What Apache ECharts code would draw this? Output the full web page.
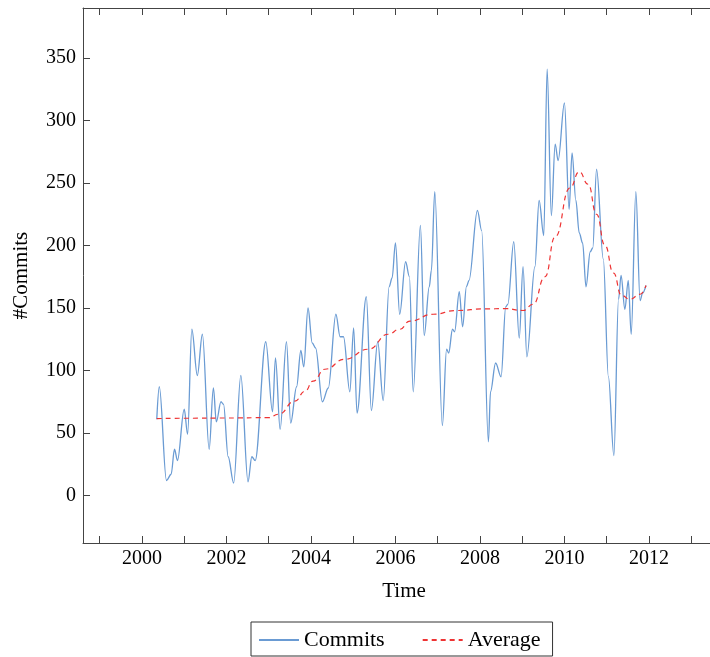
<!DOCTYPE html>
<html>
<head>
<meta charset="utf-8">
<script src="https://cdn.jsdelivr.net/npm/echarts@6/dist/echarts.min.js"></script>
<style>html,body{margin:0;padding:0;background:#fff;}#c{width:710px;height:657px;}</style>
</head>
<body>
<div id="c"></div>
<script>
const commitYears = [2000.35,2000.41,2000.58,2000.69,2000.77,2000.84,2001.0,2001.08,2001.18,2001.31,2001.43,2001.59,2001.69,2001.76,2001.87,2001.93,2002.04,2002.17,2002.34,2002.51,2002.6,2002.68,2002.93,2003.09,2003.16,2003.27,2003.42,2003.52,2003.66,2003.76,2003.83,2003.93,2004.03,2004.11,2004.27,2004.41,2004.59,2004.69,2004.77,2004.92,2005.01,2005.09,2005.31,2005.43,2005.58,2005.71,2005.85,2005.92,2006.0,2006.1,2006.24,2006.33,2006.42,2006.59,2006.68,2006.8,2006.85,2006.93,2007.11,2007.21,2007.26,2007.35,2007.4,2007.51,2007.59,2007.68,2007.74,2007.94,2008.04,2008.2,2008.25,2008.37,2008.5,2008.61,2008.66,2008.8,2008.93,2009.02,2009.11,2009.3,2009.4,2009.51,2009.59,2009.69,2009.78,2009.85,2010.0,2010.11,2010.18,2010.27,2010.35,2010.43,2010.51,2010.61,2010.67,2010.76,2010.92,2011.04,2011.17,2011.28,2011.34,2011.43,2011.51,2011.58,2011.69,2011.79,2011.85,2011.93];
const commitValues = [61,87,12,17,37,28,69,49,133,96,129,37,86,59,75,73,31,10,96,11,31,28,123,67,110,53,123,58,87,116,103,150,122,118,75,86,145,127,127,83,134,66,159,68,123,76,167,174,202,145,187,175,83,216,128,167,180,243,56,117,114,133,131,163,135,167,172,228,212,43,83,106,95,151,153,203,126,183,111,183,236,208,341,224,281,268,314,229,274,236,210,202,167,195,198,261,189,95,32,157,176,149,172,129,243,156,162,168];
const avgYears = [2000.35,2001.0,2002.0,2003.0,2003.23,2003.62,2003.86,2004.05,2004.33,2004.8,2005.36,2005.83,2006.1,2006.34,2006.89,2007.44,2008.12,2008.6,2009.02,2009.26,2009.54,2009.78,2010.13,2010.35,2010.56,2010.76,2010.96,2011.16,2011.35,2011.55,2011.79,2011.93];
const avgValues = [61.5,61.8,62,62.3,65,75.5,83.5,91.5,101,109,117,129,133,139.5,145,148,149.3,149.5,148,153,175,207,246,259,249,225,200,178,160,157,161,168];
const xTickYears = [1999,2000,2001,2002,2003,2004,2005,2006,2007,2008,2009,2010,2011,2012,2013];
const xLabelYears = [2000,2002,2004,2006,2008,2010,2012];
const yTickValues = [0,50,100,150,200,250,300,350];

const commitData = commitYears.map((x, i) => [x, commitValues[i]]);
const avgData = avgYears.map((x, i) => [x, avgValues[i]]);

const FONT = 'Liberation Serif';
const axisColor = '#444';
const chart = echarts.init(document.getElementById('c'), null, {renderer: 'canvas'});
function xAxisOpt(extra) {
  return Object.assign({
    type: 'value', min: 1998.604, max: 2013.8, splitLine: {show: false},
    axisLine: {show: true, onZero: false, lineStyle: {color: axisColor, width: 1}},
    axisTick: {show: true, inside: true, length: 7, customValues: xTickYears.slice(), lineStyle: {color: axisColor}},
    minorTick: {show: false}
  }, extra);
}
function yAxisOpt(extra) {
  return Object.assign({
    type: 'value', min: -38, max: 390, splitNumber: 8, splitLine: {show: false},
    axisLine: {show: true, onZero: false, lineStyle: {color: axisColor, width: 1}},
    axisTick: {show: true, inside: true, length: 7, lineStyle: {color: axisColor, width: 1}},
    minorTick: {show: false}
  }, extra);
}
chart.setOption({
  animation: false,
  backgroundColor: '#fff',
  grid: {left: 83, top: 8, width: 642, height: 535, containLabel: false, outerBoundsMode: 'none'},
  xAxis: [
    xAxisOpt({
      position: 'bottom',
      name: 'Time', nameLocation: 'middle', nameGap: 38,
      nameTextStyle: {fontFamily: FONT, fontSize: 21, color: '#000'},
      axisLabel: {show: true, customValues: xLabelYears, margin: 6, fontFamily: FONT, fontSize: 20, color: '#000', formatter: v => String(v)}
    }),
    xAxisOpt({position: 'top', axisLabel: {show: false}})
  ],
  yAxis: [
    yAxisOpt({
      position: 'left',
      name: '#Commits', nameLocation: 'middle', nameGap: 51, nameRotate: 90,
      nameTextStyle: {fontFamily: FONT, fontSize: 21, color: '#000'},
      axisLabel: {show: true, showMinLabel: false, showMaxLabel: false, margin: 7, fontFamily: FONT, fontSize: 20, color: '#000',
        formatter: v => (yTickValues.indexOf(v) >= 0 ? String(v) : '')}
    }),
    yAxisOpt({position: 'right', axisLabel: {show: false}})
  ],
  legend: {
    left: 251, top: 622, orient: 'horizontal',
    backgroundColor: '#fff', borderColor: '#333', borderWidth: 1,
    padding: [7, 12, 5, 7], itemGap: 37, itemWidth: 40, itemHeight: 14,
    itemStyle: {opacity: 0},
    textStyle: {fontFamily: FONT, fontSize: 22, color: '#000'},
    data: ['Commits', 'Average']
  },
  series: [
    {
      name: 'Commits', type: 'line', xAxisIndex: 0, yAxisIndex: 0,
      data: commitData, showSymbol: false, symbol: 'none',
      smooth: 0.35, smoothMonotone: 'x',
      lineStyle: {color: '#6a9bd3', width: 1.3}, itemStyle: {color: '#6a9bd3'}
    },
    {
      name: 'Average', type: 'line', xAxisIndex: 0, yAxisIndex: 0,
      data: avgData, showSymbol: false, symbol: 'none',
      smooth: 0.5, smoothMonotone: 'x',
      lineStyle: {color: '#ee3333', width: 1.2, type: [5, 4]}, itemStyle: {color: '#ee3333'}
    }
  ]
});
</script>
</body>
</html>
